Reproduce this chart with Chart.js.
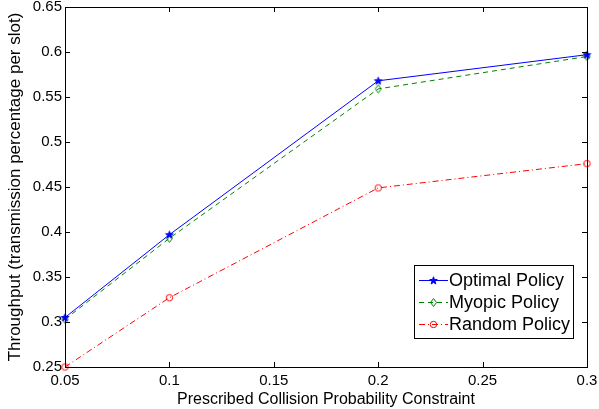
<!DOCTYPE html>
<html lang="en">
<head>
  <title>Throughput vs Collision Constraint</title>
  <script src="https://cdn.jsdelivr.net/npm/chart.js"></script>
  <style>
    body { margin: 0; background: #fff; }
  </style>
</head>
<body>
  <canvas id="myChart" width="599" height="409"></canvas>
  <script>

  // data
  var collisionLevels = [0.05, 0.1, 0.2, 0.3];
  var optimalPolicy = [0.305, 0.397, 0.568, 0.597];
  var myopicPolicy = [0.303, 0.393, 0.559, 0.595];
  var randomPolicy = [0.250, 0.327, 0.449, 0.476];
  var xTicks = [0.05, 0.1, 0.15, 0.2, 0.25, 0.3];
  var yTicks = [0.25, 0.3, 0.35, 0.4, 0.45, 0.5, 0.55, 0.6, 0.65];

  var fontName = '"Liberation Sans", Arial, Helvetica, sans-serif';

  // little marker images, matlab style
  function makeMarker(kind, color) {
    var c = document.createElement('canvas');
    c.width = 11; c.height = 11;
    var g = c.getContext('2d');
    g.strokeStyle = color;
    g.fillStyle = color;
    g.lineWidth = 1;
    g.beginPath();
    if (kind == 'star') {
      for (var i = 0; i < 10; i++) {
        var r = (i % 2 == 0) ? 4 : 1.6;
        var a = -Math.PI / 2 + i * Math.PI / 5;
        var px = 5.5 + r * Math.cos(a), py = 5.8 + r * Math.sin(a);
        if (i == 0) g.moveTo(px, py); else g.lineTo(px, py);
      }
      g.closePath();
      g.fill();
      g.stroke();
    } else if (kind == 'diamond') {
      g.moveTo(5.5, 1.5); g.lineTo(8.5, 5.5); g.lineTo(5.5, 9.5); g.lineTo(2.5, 5.5);
      g.closePath();
      g.stroke();
    } else {
      g.arc(5.5, 5.5, 3.2, 0, Math.PI * 2);
      g.stroke();
    }
    return c;
  }

  function toPoints(vals) {
    return vals.map(function (v, i) { return { x: collisionLevels[i], y: v }; });
  }

  // box, inward ticks and legend drawn on top
  var framePlugin = {
    id: 'frame',
    afterDraw: function (chart) {
      var ctx = chart.ctx, a = chart.chartArea;
      var xs = chart.scales.x, ys = chart.scales.y;
      ctx.save();
      ctx.strokeStyle = '#000';
      ctx.lineWidth = 1;
      ctx.strokeRect(Math.round(a.left) + 0.5, Math.round(a.top) + 0.5,
        Math.round(a.right - a.left), Math.round(a.bottom - a.top));
      ctx.beginPath();
      xTicks.forEach(function (t) {
        var px = Math.round(xs.getPixelForValue(t)) + 0.5;
        ctx.moveTo(px, a.bottom); ctx.lineTo(px, a.bottom - 5);
        ctx.moveTo(px, a.top); ctx.lineTo(px, a.top + 5);
      });
      yTicks.forEach(function (t) {
        var py = Math.round(ys.getPixelForValue(t)) + 0.5;
        ctx.moveTo(a.left, py); ctx.lineTo(a.left + 5, py);
        ctx.moveTo(a.right, py); ctx.lineTo(a.right - 5, py);
      });
      ctx.stroke();

      // legend box in lower right
      var bx = Math.round(a.right) - 173, by = Math.round(a.bottom) - 102, bw = 159, bh = 73;
      ctx.fillStyle = '#fff';
      ctx.fillRect(bx, by, bw, bh);
      ctx.strokeRect(bx + 0.5, by + 0.5, bw, bh);
      ctx.font = '18px ' + fontName;
      ctx.textBaseline = 'middle';
      chart.data.datasets.forEach(function (ds, i) {
        var ly = by + 15 + i * 22;
        ctx.strokeStyle = ds.borderColor;
        ctx.setLineDash(ds.borderDash || []);
        ctx.beginPath();
        ctx.moveTo(bx + 5, ly + 0.5); ctx.lineTo(bx + 34, ly + 0.5);
        ctx.stroke();
        ctx.setLineDash([]);
        ctx.drawImage(ds.pointStyle, bx + 19.5 - 5.5, ly - 5);
        ctx.fillStyle = '#000';
        ctx.fillText(ds.label, bx + 35, ly + 1);
      });
      ctx.restore();
    }
  };

  var ctx = document.getElementById('myChart').getContext('2d');

  var config = {
    type: 'line',
    data: {
      datasets: [{
        label: 'Optimal Policy',
        data: toPoints(optimalPolicy),
        borderColor: '#0000ff',
        borderWidth: 1,
        borderDash: [],
        pointStyle: makeMarker('star', '#0000ff'),
        fill: false,
        tension: 0,
        clip: false
      }, {
        label: 'Myopic Policy',
        data: toPoints(myopicPolicy),
        borderColor: '#008000',
        borderWidth: 1,
        borderDash: [5, 4],
        pointStyle: makeMarker('diamond', '#008000'),
        fill: false,
        tension: 0,
        clip: false
      }, {
        label: 'Random Policy',
        data: toPoints(randomPolicy),
        borderColor: '#ff0000',
        borderWidth: 1,
        borderDash: [6, 3, 1, 3],
        pointStyle: makeMarker('circle', '#ff0000'),
        fill: false,
        tension: 0,
        clip: false
      }]
    },
    options: {
      responsive: false,
      animation: false,
      devicePixelRatio: 1,
      layout: { padding: { top: 7, right: 12, left: 0, bottom: 0 } },
      plugins: {
        legend: { display: false },
        tooltip: { enabled: false }
      },
      scales: {
        x: {
          type: 'linear',
          min: 0.05,
          max: 0.3,
          afterBuildTicks: function (scale) {
            scale.ticks = xTicks.map(function (v) { return { value: v }; });
          },
          afterFit: function (scale) {
            scale.height = 42;
            scale.paddingLeft = 0;
            scale.paddingRight = 0;
          },
          grid: { display: false, drawTicks: false },
          border: { display: false },
          ticks: {
            color: '#000',
            padding: 5,
            maxRotation: 0,
            autoSkip: false,
            font: { family: fontName, size: 15 },
            callback: function (v) { return String(+v.toFixed(2)); }
          },
          title: {
            display: true,
            text: 'Prescribed Collision Probability Constraint',
            color: '#000',
            font: { family: fontName, size: 16 },
            padding: { top: 1, bottom: 0 }
          }
        },
        y: {
          type: 'linear',
          min: 0.25,
          max: 0.65,
          afterBuildTicks: function (scale) {
            scale.ticks = yTicks.map(function (v) { return { value: v }; });
          },
          afterFit: function (scale) {
            scale.width = 65;
            scale.paddingTop = 0;
            scale.paddingBottom = 0;
          },
          grid: { display: false, drawTicks: false },
          border: { display: false },
          ticks: {
            color: '#000',
            padding: 3,
            autoSkip: false,
            font: { family: fontName, size: 15 },
            callback: function (v) { return String(+v.toFixed(2)); }
          },
          title: {
            display: true,
            text: 'Throughput (transmission percentage per slot)',
            color: '#000',
            font: { family: fontName, size: 17 },
            padding: { top: 5, bottom: 0 }
          }
        }
      }
    },
    plugins: [framePlugin]
  };

  window.myLine = new Chart(ctx, config);

  </script>
</body>
</html>
